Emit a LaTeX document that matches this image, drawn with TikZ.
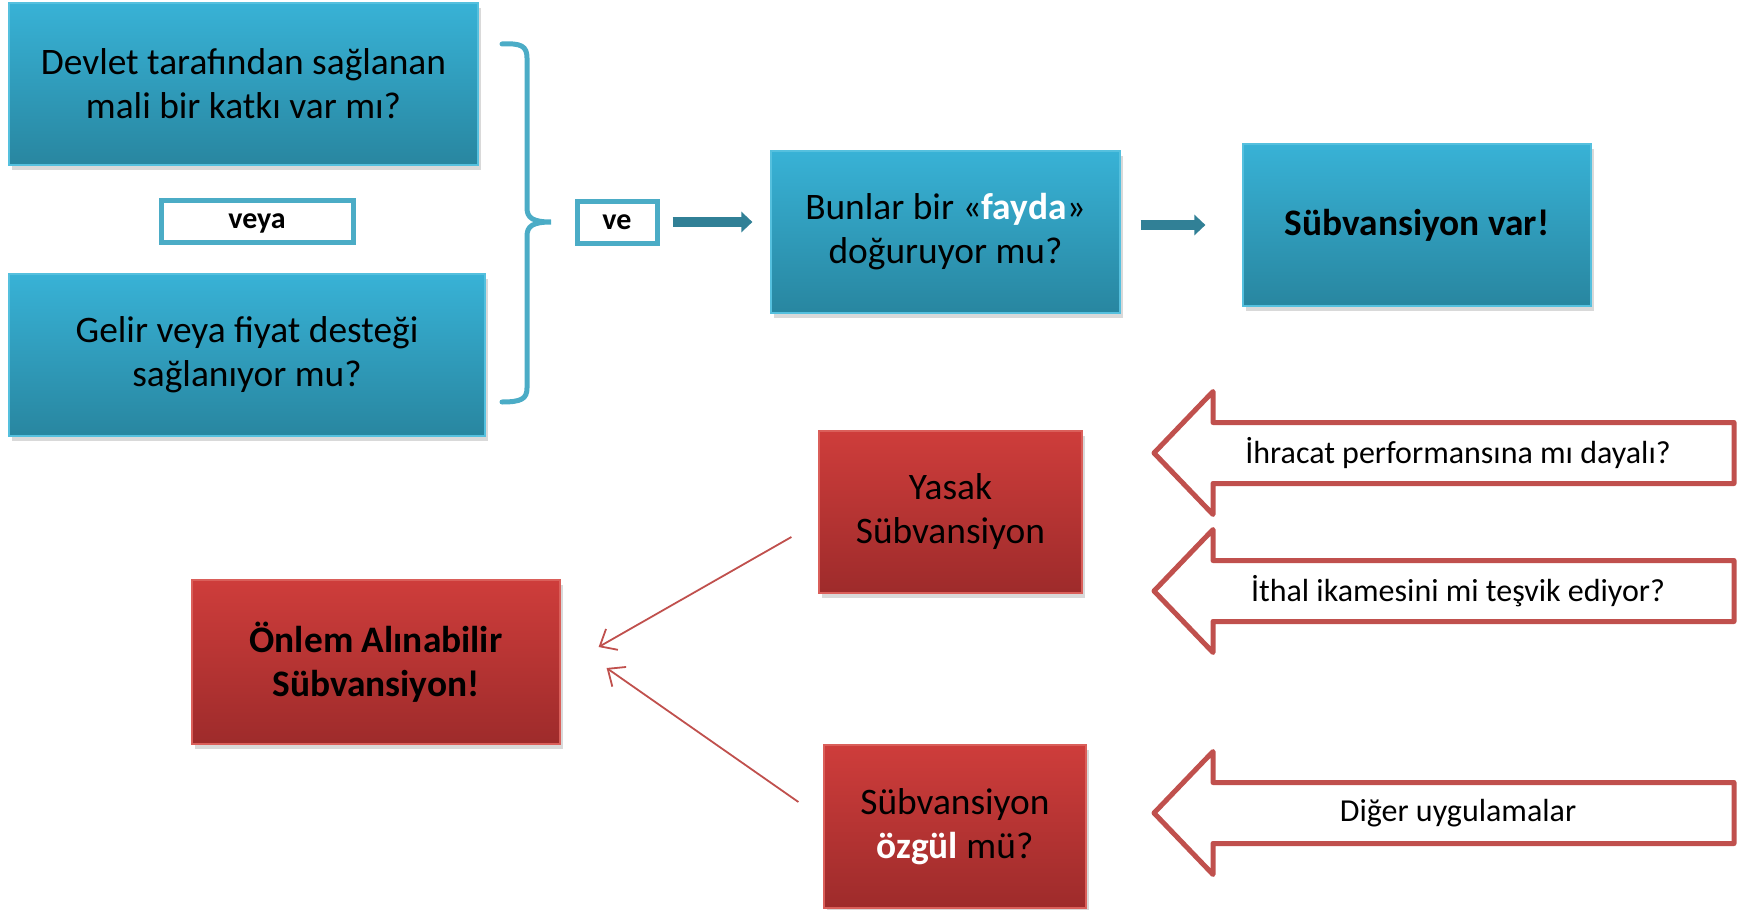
\documentclass[tikz,border=0pt]{standalone}
\usepackage{fontspec}
\setmainfont{Carlito}
\usetikzlibrary{arrows.meta,shadows}
\definecolor{bluetop}{RGB}{56,178,214}
\definecolor{bluebot}{RGB}{40,134,160}
\definecolor{blueedge}{RGB}{85,192,222}
\definecolor{redtop}{RGB}{206,61,59}
\definecolor{redbot}{RGB}{158,43,43}
\definecolor{rededge}{RGB}{218,95,90}
\definecolor{accent}{RGB}{75,172,198}
\definecolor{flowteal}{RGB}{49,128,150}
\definecolor{redline}{RGB}{192,80,77}
\tikzset{
  boxbase/.style={rectangle, line width=0.6pt, align=center, inner sep=0pt,
    font=\fontsize{18.7}{22}\selectfont,
    drop shadow={opacity=0.3, shadow xshift=1.5pt, shadow yshift=-2.5pt}},
  bluebox/.style={boxbase, top color=bluetop, bottom color=bluebot, draw=blueedge},
  redbox/.style={boxbase, top color=redtop, bottom color=redbot, draw=rededge},
  boldbox/.style={font=\bfseries\fontsize{18.7}{22}\selectfont},
  tagbox/.style={rectangle, draw=accent, line width=2.5pt, fill=white, inner sep=0pt,
    text depth=0pt, font=\bfseries\fontsize{15}{17}\selectfont},
  flowarrow/.style={flowteal, line width=5pt, -{Triangle[length=5.5pt,width=10pt]}},
  hintarrow/.style={redline, line width=0.9pt, -{Straight Barb[length=7pt,width=12pt]}},
  outlinearrow/.style={draw=redline, line width=2.5pt, line join=round, fill=white},
  hinttext/.style={font=\fontsize{16}{18}\selectfont, inner sep=0pt},
  bracestyle/.style={draw=accent, line width=2.5pt, line cap=round}
}
\begin{document}
\begin{tikzpicture}[x=0.5pt,y=-0.5pt]
\useasboundingbox (0,0) rectangle (1740,910);

% top-left questions
\node[bluebox, minimum width=234.5pt, minimum height=81pt] (q1) at (243.5,84)
  {Devlet tarafından sağlanan\\mali bir katkı var mı?};
\node[bluebox, minimum width=238pt, minimum height=81pt] (q2) at (247,355)
  {Gelir veya fiyat desteği\\sağlanıyor mu?};
\node[tagbox, minimum width=96pt, minimum height=21pt] (veya) at (257,221) {veya};

% brace
\draw[bracestyle] (502,44) .. controls (521,43) and (527,46) .. (527,58) -- (527,208)
  .. controls (527,218) and (533,222) .. (551,222)
  .. controls (533,222) and (527,226) .. (527,236) -- (527,388)
  .. controls (527,399) and (521,402) .. (502,402);
\coordinate (bracetip) at (551,222);

% main flow
\node[tagbox, minimum width=40pt, minimum height=21pt] (ve) at (617,222) {ve};
\node[bluebox, minimum width=174.5pt, minimum height=81pt] (fayda) at (945.5,232)
  {Bunlar bir «\textcolor{white}{\bfseries fayda}»\\doğuruyor mu?};
\node[bluebox, boldbox, minimum width=174pt, minimum height=81pt] (var) at (1417,225)
  {Sübvansiyon var!};
\draw[flowarrow, shorten <=6.5pt, shorten >=9pt] (ve.east) -- (fayda.west |- ve.east);
\draw[flowarrow, shorten <=10pt, shorten >=18.5pt] (fayda.east |- var.west) -- (var.west);

% red boxes
\node[redbox, minimum width=131.5pt, minimum height=81pt] (yasak) at (950.5,512)
  {Yasak\\Sübvansiyon};
\node[redbox, boldbox, minimum width=184pt, minimum height=82pt] (onlem) at (376,662)
  {Önlem Alınabilir\\Sübvansiyon!};
\node[redbox, minimum width=131pt, minimum height=81.5pt] (ozgul) at (955,826.5)
  {Sübvansiyon\\\textcolor{white}{\bfseries özgül} mü?};

\draw[hintarrow] ([xshift=-13.5pt,yshift=-12.5pt]yasak.west) -- ([xshift=19pt,yshift=7.5pt]onlem.east);
\draw[hintarrow] ([xshift=-12.5pt,yshift=12.25pt]ozgul.west) -- ([xshift=23pt,yshift=-3pt]onlem.east);

% outline arrows
\draw[outlinearrow] (1154,453) -- (1213,391.5) -- (1213,422.5) -- (1734,422.5)
  -- (1734,483.5) -- (1213,483.5) -- (1213,514.5) -- cycle;
\node[hinttext] (h1) at (1458,453) {İhracat performansına mı dayalı?};
\draw[outlinearrow] (1154,591) -- (1213,529.5) -- (1213,560.5) -- (1734,560.5)
  -- (1734,621.5) -- (1213,621.5) -- (1213,652.5) -- cycle;
\node[hinttext] (h2) at (1458,591) {İthal ikamesini mi teşvik ediyor?};
\draw[outlinearrow] (1154,813) -- (1213,751.5) -- (1213,782.5) -- (1734,782.5)
  -- (1734,843.5) -- (1213,843.5) -- (1213,874.5) -- cycle;
\node[hinttext] (h3) at (1458,813) {Diğer uygulamalar};
\end{tikzpicture}
\end{document}
